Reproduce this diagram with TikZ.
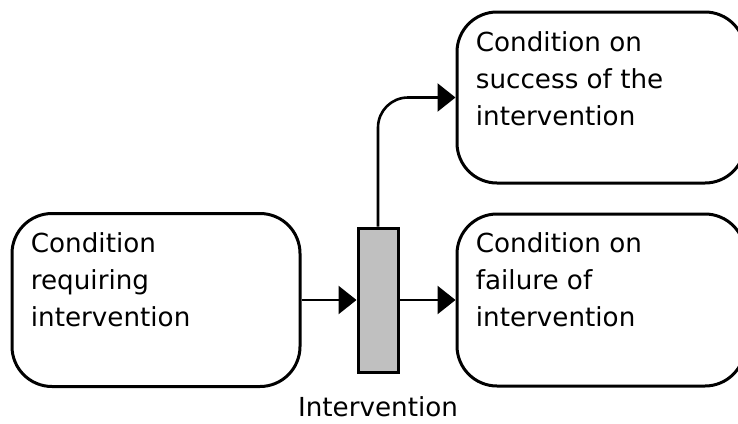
\documentclass[tikz,border=0pt]{standalone}
\usepackage{fontspec}
\setmainfont{DejaVu Sans}
\usetikzlibrary{arrows.meta}
\definecolor{barfill}{HTML}{C0C0C0}
\begin{document}
\begin{tikzpicture}[x=0.5pt,y=-0.5pt,
  statebox/.style={draw=black, line width=1.5pt, rounded corners=20pt,
    minimum width=144pt, inner sep=0pt},
  boxtext/.style={anchor=north west, inner sep=0pt, align=left,
    font=\fontsize{13.1pt}{18.5pt}\selectfont},
  bartrans/.style={draw=black, line width=1.5pt, fill=barfill,
    minimum width=20pt, minimum height=72pt, inner sep=0pt},
  flow/.style={line width=1.3pt, -{Triangle[length=9pt,width=14pt]}}]
  \useasboundingbox (0,0) rectangle (738,423);
  \clip (0,0) rectangle (738,423);

  % condition boxes
  \node[statebox, minimum height=86.5pt] (req) at (156,300) {};
  \node[statebox, minimum height=85.5pt] (succ) at (601,97.5) {};
  \node[statebox, minimum height=86pt] (fail) at (601,300) {};

  % box texts
  \node[boxtext] (reqtext) at (30.5,232) {Condition\\requiring\\intervention};
  \node[boxtext] (succtext) at (475.5,31) {Condition on\\success of the\\intervention};
  \node[boxtext] (failtext) at (475.5,232) {Condition on\\failure of\\intervention};

  % intervention bar and its label
  \node[bartrans] (bar) at (378,300) {};
  \node[anchor=base, inner sep=0pt, font=\fontsize{13.1pt}{18.5pt}\selectfont]
    (barlabel) at (378,416) {Intervention};

  % connectors
  \draw[flow] (req.east) -- (bar.west);
  \draw[flow] (bar.east) -- (fail.west);
  \draw[flow, rounded corners=15pt] (bar.north) |- (succ.west);
\end{tikzpicture}
\end{document}
